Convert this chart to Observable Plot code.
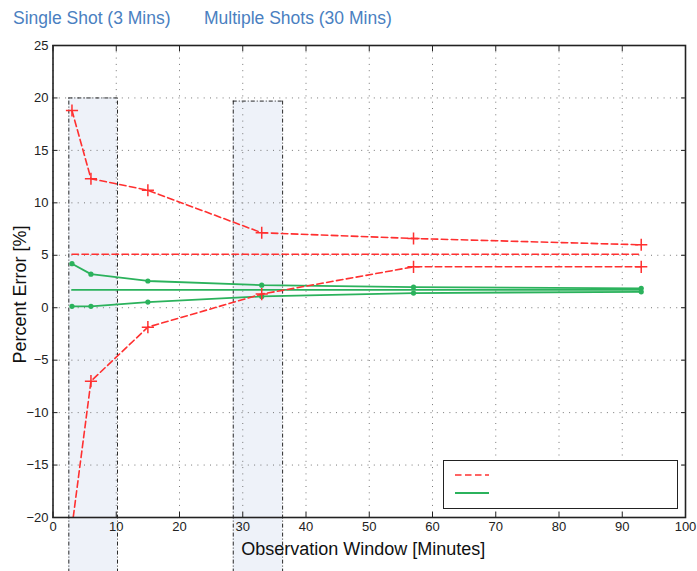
<!DOCTYPE html>
<html><head><meta charset="utf-8">
<script src="https://cdn.jsdelivr.net/npm/d3@7"></script>
<script src="https://cdn.jsdelivr.net/npm/@observablehq/plot@0.6"></script>
<style>
body{margin:0;background:#fff;font-family:"Liberation Sans",Arial,sans-serif;}
#wrap{position:relative;width:697px;height:571px;overflow:hidden;}
#head{position:relative;height:36px;}
#head span{position:absolute;top:8px;font-size:17.5px;color:#4a7fc1;white-space:nowrap;}
#legend{position:absolute;left:443px;top:460px;width:233px;height:47px;border:1.5px solid #222;background:#fff;}
#chart svg{overflow:visible;}
</style></head><body>
<div id="wrap">
<div id="head"></div>
<div id="chart"></div>
<div id="legend"><svg width="233" height="47">
<line x1="11" x2="45" y1="14" y2="14" stroke="#ff3030" stroke-width="1.6" stroke-dasharray="6.5,3.5"/>
<line x1="11" x2="45" y1="32" y2="32" stroke="#2bb25c" stroke-width="2"/>
</svg></div>
</div>
<script>
// ---- data ----
const windows = [3, 6, 15, 33, 57, 93];
const redUpper = [18.8, 12.3, 11.2, 7.15, 6.6, 6.0];
const redLower = [-20.9, -7.0, -1.85, 1.3, 3.9, 3.9];
const redRef = 5.1;
const greenUpper = [4.2, 3.2, 2.55, 2.15, 1.97, 1.85];
const greenLower = [0.13, 0.13, 0.54, 1.08, 1.4, 1.52];
const greenRef = 1.7;
const bandLabels = ["Single Shot (3 Mins)", "Multiple Shots (30 Mins)"];
const bandStart = [2.5, 28.5];
const bandEnd = [10.2, 36.3];
const bandTop = [20, 19.7];
const xTicks = [0, 10, 20, 30, 40, 50, 60, 70, 80, 90, 100];
const yTicks = [-20, -15, -10, -5, 0, 5, 10, 15, 20, 25];
const xLabel = "Observation Window [Minutes]";
const yLabel = "Percent Error [%]";

// ---- header ----
const headLeft = [13, 204];
const head = document.getElementById("head");
bandLabels.forEach((t, i) => {
  const s = document.createElement("span");
  s.textContent = t; s.style.left = headLeft[i] + "px";
  head.appendChild(s);
});

const bandBottom = -25.3; // extends below frame, as in the reference
const bands = bandLabels.map((l, i) => ({label: l, x1: bandStart[i], x2: bandEnd[i], top: bandTop[i]}));
const series = (ys) => windows.map((x, i) => ({x, y: ys[i]}));
const ref = (v) => [{x: windows[0], y: v}, {x: windows[windows.length - 1], y: v}];

const RED = "#ff3030", GREEN = "#2bb25c";
const dash = "6.5,3.5";
const dashDot = "4,2,1,2";

const chart = Plot.plot({
  width: 697, height: 535,
  marginLeft: 52.5, marginRight: 12, marginTop: 9, marginBottom: 54,
  x: {domain: [0, 100]},
  y: {domain: [-20, 25]},
  style: {fontFamily: '"Liberation Sans", Arial, sans-serif', fontSize: "13px", color: "#222", background: "transparent", overflow: "visible"},
  marks: [
    Plot.rect(bands, {x1: "x1", x2: "x2", y1: () => bandBottom, y2: "top", fill: "#eef2f9"}),
    Plot.gridX(xTicks, {stroke: "#777", strokeOpacity: 1, strokeDasharray: "1,5.3"}),
    Plot.gridY(yTicks, {stroke: "#777", strokeOpacity: 1, strokeDasharray: "1,5.3"}),
    Plot.ruleX(bands, {x: "x1", y1: () => bandBottom, y2: "top", stroke: "#111", strokeWidth: 0.9, strokeDasharray: dashDot}),
    Plot.ruleX(bands, {x: "x2", y1: () => bandBottom, y2: "top", stroke: "#111", strokeWidth: 0.9, strokeDasharray: dashDot}),
    Plot.ruleY(bands, {y: "top", x1: "x1", x2: "x2", stroke: "#111", strokeWidth: 0.9, strokeDasharray: dashDot}),
    // green
    Plot.line(series(greenUpper), {x: "x", y: "y", stroke: GREEN, strokeWidth: 1.8}),
    Plot.line(series(greenLower), {x: "x", y: "y", stroke: GREEN, strokeWidth: 1.8}),
    Plot.line(ref(greenRef), {x: "x", y: "y", stroke: GREEN, strokeWidth: 1.8}),
    Plot.dot(series(greenUpper), {x: "x", y: "y", r: 2.6, fill: GREEN}),
    Plot.dot(series(greenLower), {x: "x", y: "y", r: 2.6, fill: GREEN}),
    // red
    Plot.line(series(redUpper), {x: "x", y: "y", stroke: RED, strokeWidth: 1.6, strokeDasharray: dash}),
    Plot.line(series(redLower), {x: "x", y: "y", stroke: RED, strokeWidth: 1.6, strokeDasharray: dash, clip: true}),
    Plot.line(ref(redRef), {x: "x", y: "y", stroke: RED, strokeWidth: 1.6, strokeDasharray: dash}),
    Plot.dot(series(redUpper), {x: "x", y: "y", symbol: "plus", r: 4, stroke: RED, strokeWidth: 1.5}),
    Plot.dot(series(redLower).filter(d => d.y >= -20), {x: "x", y: "y", symbol: "plus", r: 4, stroke: RED, strokeWidth: 1.5}),
    // frame & axes
    Plot.frame({stroke: "#222", strokeWidth: 1.6}),
    Plot.axisX(xTicks, {anchor: "bottom", tickSize: -5, tickPadding: 9, label: null}),
    Plot.axisX(xTicks, {anchor: "top", tickSize: -5, tickFormat: () => "", label: null}),
    Plot.axisY(yTicks, {anchor: "left", tickSize: -5, tickPadding: 9.5, label: null, tickFormat: d => d < 0 ? "\u2212" + Math.abs(d) : String(d)}),
    Plot.axisY(yTicks, {anchor: "right", tickSize: -5, tickFormat: () => "", label: null}),
    Plot.text([xLabel], {frameAnchor: "bottom", textAnchor: "middle", lineAnchor: "middle", dy: 32, dx: -6, fontSize: 18, fill: "#111"}),
    Plot.text([yLabel], {frameAnchor: "left", textAnchor: "middle", lineAnchor: "middle", rotate: -90, dx: -33, dy: 13, fontSize: 18, fill: "#111"})
  ]
});
document.getElementById("chart").appendChild(chart);
</script>
</body></html>
